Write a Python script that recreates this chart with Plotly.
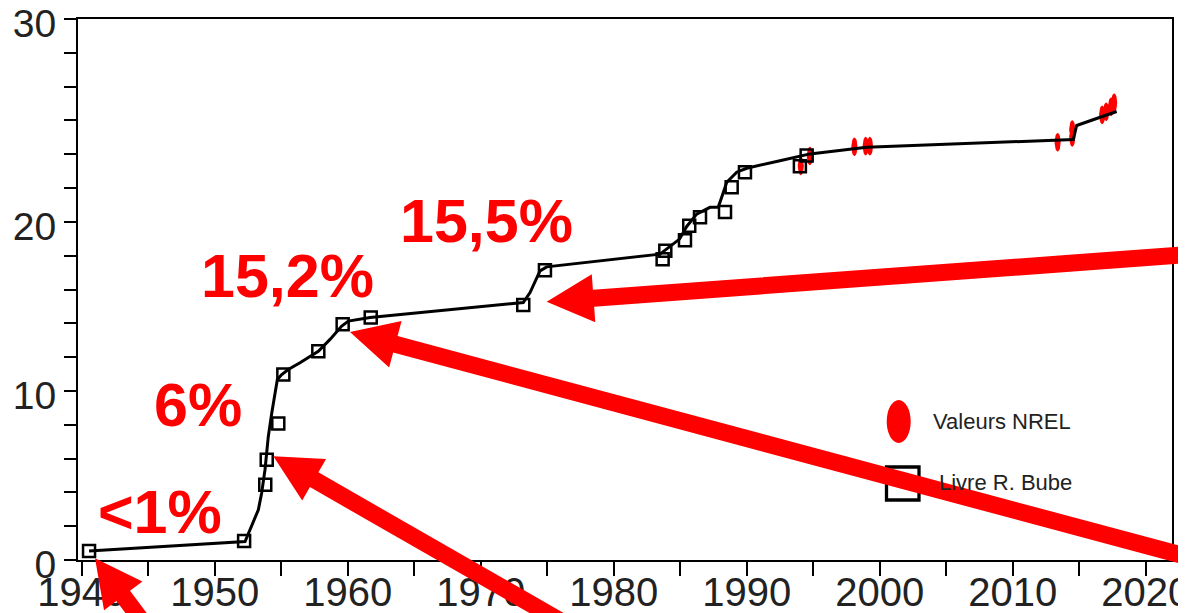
import numpy as np
import plotly.graph_objects as go

# ---------------- data ----------------
# Livre R. Bube (open squares)
bube_year = [1940.55, 1952.21, 1953.80, 1953.91, 1954.78, 1955.16, 1957.79, 1959.62,
             1961.73, 1973.20, 1974.83, 1983.68, 1983.88, 1985.36, 1985.68, 1986.49,
             1988.37, 1988.87, 1989.87, 1994.00, 1994.51]
bube_eff = [0.53, 1.13, 4.45, 5.93, 8.07, 10.97, 12.35, 13.94,
            14.34, 15.08, 17.14, 17.79, 18.29, 18.92, 19.77, 20.27,
            20.58, 22.05, 22.94, 23.29, 23.92]

# record curve (black line)
curve_year = [1940.55, 1952.28, 1953.28, 1953.53, 1953.78, 1954.03, 1954.29, 1954.71,
              1955.04, 1955.53, 1956.41, 1957.79, 1958.67, 1959.55, 1960.05, 1961.68,
              1973.20, 1973.71, 1974.46, 1974.96, 1983.48, 1983.98, 1984.95, 1985.49,
              1986.24, 1987.24, 1987.86, 1988.12, 1988.50, 1989.25, 1990.00, 1992.50,
              1994.76, 1999.02, 2014.56, 2014.81, 2017.82]
curve_eff = [0.53, 1.09, 2.97, 3.96, 5.34, 7.31, 8.70, 10.68,
             10.97, 11.27, 11.67, 12.35, 13.05, 13.84, 14.13, 14.34,
             15.23, 15.82, 17.10, 17.34, 18.09, 18.39, 18.98, 19.73,
             20.46, 20.86, 20.86, 21.45, 22.34, 22.94, 23.17, 23.62,
             24.02, 24.42, 24.87, 25.70, 26.53]

# Valeurs NREL (red ellipses)
nrel_year = [1994.07, 1994.75, 1998.10, 1998.95, 1999.27, 2013.38, 2014.48, 2014.48,
             2016.73, 2017.03, 2017.40, 2017.63]
nrel_eff = [23.31, 23.90, 24.44, 24.48, 24.48, 24.71, 25.00, 25.46,
            26.33, 26.51, 26.81, 27.05]

# ticks
x_tick_vals = [1940, 1945, 1950, 1955, 1960, 1965, 1970, 1975, 1980, 1985, 1990,
               1995, 2000, 2005, 2010, 2015, 2020]
x_tick_text = ["1940", "", "1950", "", "1960", "", "1970", "", "1980", "", "1990",
               "", "2000", "", "2010", "", "2020"]
y_tick_vals = [0, 2, 4, 6, 8, 10, 12, 14, 16, 18, 20, 22, 24, 26, 28, 30, 32]
y_tick_text = ["0", "", "", "", "", "10", "", "", "", "", "20", "", "", "", "", "", "30"]

# red callouts
label_text = ["<1%", "6%", "15,2%", "15,5%"]
label_year = [1945.89, 1948.75, 1955.44, 1970.40]
label_eff = [2.85, 9.19, 16.79, 20.05]

# arrows: tip (year, efficiency) and tail direction/length in pixels
arrow_year = [1941.00, 1954.41, 1960.17, 1974.96]
arrow_eff = [0.10, 6.13, 13.48, 15.28]
arrow_dx = [90, 300, 880, 680]
arrow_dy = [120, 172, 236, -50]

legend_names = ["Valeurs NREL", "Livre R. Bube"]

# ---------------- figure ----------------
OFF = 8                      # page body margin around the plot div
W, H = 1186 - OFF, 613 - OFF
L, R, T, B = 78 - OFF, 14, 19 - OFF, 53
XR = [1939.72, 2021.98]
YR = [0, 32]
FONT = "Liberation Sans, Arial, sans-serif"
NARROW = "Liberation Sans Narrow, Arial Narrow, Liberation Sans, sans-serif"
RED = "#ff0000"
PW, PH = W - L - R, H - T - B


def pxx(x):
    """page pixel x -> paper fraction"""
    return (x - OFF - L) / PW


def pxy(y):
    """page pixel y -> paper fraction"""
    return (H - B - (y - OFF)) / PH


def data_to_page(xv, yv):
    return (OFF + L + (xv - XR[0]) / (XR[1] - XR[0]) * PW,
            OFF + T + (YR[1] - yv) / (YR[1] - YR[0]) * PH)


def arrow_path(tip, d, shaft=17.0, head_len=47.0, head_w=48.0):
    p = np.array(tip, float)
    d = np.array(d, float)
    length = np.hypot(*d)
    u = d / length
    n = np.array([-u[1], u[0]])
    pts = [p,
           p + head_len * u + head_w / 2 * n,
           p + head_len * u + shaft / 2 * n,
           p + length * u + shaft / 2 * n,
           p + length * u - shaft / 2 * n,
           p + head_len * u - shaft / 2 * n,
           p + head_len * u - head_w / 2 * n]
    s = "M " + " L ".join(f"{pxx(q[0]):.5f},{pxy(q[1]):.5f}" for q in pts) + " Z"
    return s


fig = go.Figure()

# NREL ellipses, built around each value
t = np.linspace(0, 2 * np.pi, 28)
ex, ey = [], []
for xv, yv in zip(nrel_year, nrel_eff):
    ex += list(xv + 0.23 * np.cos(t)) + [None]
    ey += list(yv + 0.55 * np.sin(t)) + [None]
fig.add_trace(go.Scatter(x=ex, y=ey, mode="lines", fill="toself", fillcolor=RED,
                         line=dict(width=0, color=RED), name=legend_names[0],
                         hoverinfo="skip"))

fig.add_trace(go.Scatter(x=curve_year, y=curve_eff, mode="lines",
                         line=dict(color="black", width=3), name="record"))

fig.add_trace(go.Scatter(x=bube_year, y=bube_eff, mode="markers",
                         marker=dict(symbol="square-open", size=12, color="black",
                                     line=dict(width=2.5, color="black")),
                         name=legend_names[1]))

axis_common = dict(showgrid=False, zeroline=False, showline=True, linecolor="black",
                   linewidth=2, mirror=True, ticks="outside", tickwidth=2,
                   tickcolor="black", automargin=False, ticklabeloverflow="allow")

fig.update_xaxes(range=XR, tickmode="array", tickvals=x_tick_vals,
                 ticktext=x_tick_text, ticklen=14, ticklabelstandoff=-18,
                 tickfont=dict(family=NARROW, size=40, color="#222"), **axis_common)
fig.update_yaxes(range=YR, tickmode="array", tickvals=y_tick_vals,
                 ticktext=y_tick_text, ticklen=12, ticklabelshift=4,
                 tickfont=dict(family=FONT, size=39, color="#222"), **axis_common)

annotations = []
for txt, xv, yv in zip(label_text, label_year, label_eff):
    annotations.append(dict(x=xv, y=yv, xref="x", yref="y", text=txt, showarrow=False,
                            font=dict(family=FONT, size=61, color=RED, weight="bold"),
                            xanchor="center", yanchor="middle"))

# legend (drawn by hand to match the big symbols)
annotations.append(dict(x=pxx(931), y=pxy(421), xref="paper", yref="paper",
                        text=legend_names[0], showarrow=False, xanchor="left",
                        yanchor="middle", font=dict(family=FONT, size=22, color="#222")))
annotations.append(dict(x=pxx(937), y=pxy(482), xref="paper", yref="paper",
                        text=legend_names[1], showarrow=False, xanchor="left",
                        yanchor="middle", font=dict(family=FONT, size=22, color="#222")))

shapes = [
    dict(type="circle", xref="paper", yref="paper",
         x0=pxx(886.7), x1=pxx(910.7), y0=pxy(443), y1=pxy(400),
         fillcolor=RED, line=dict(width=0)),
    dict(type="rect", xref="paper", yref="paper",
         x0=pxx(886.5), x1=pxx(919), y0=pxy(500), y1=pxy(467),
         fillcolor="rgba(0,0,0,0)", line=dict(color="black", width=3.3)),
]
for xv, yv, dx, dy in zip(arrow_year, arrow_eff, arrow_dx, arrow_dy):
    tip = data_to_page(xv, yv)
    shapes.append(dict(type="path", xref="paper", yref="paper", layer="above",
                       path=arrow_path(tip, (dx, dy)), fillcolor=RED,
                       line=dict(width=0)))

fig.update_layout(width=W, height=H, margin=dict(l=L, r=R, t=T, b=B),
                  plot_bgcolor="white", paper_bgcolor="white", showlegend=False,
                  annotations=annotations, shapes=shapes)

fig.write_html("out.html")
